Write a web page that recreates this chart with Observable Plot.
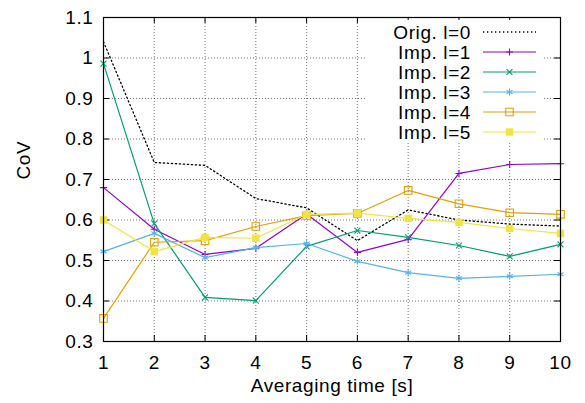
<!DOCTYPE html>
<html><head><meta charset="utf-8">
<script src="https://cdn.jsdelivr.net/npm/d3@7"></script>
<script src="https://cdn.jsdelivr.net/npm/@observablehq/plot@0.6"></script>
<style>body{margin:0;background:#fff} svg text{letter-spacing:0.6px}</style>
</head><body><div id="chart"></div>
<script>
const times = [1, 2, 3, 4, 5, 6, 7, 8, 9, 10];
const seriesNames = ["Orig. l=0", "Imp. l=1", "Imp. l=2", "Imp. l=3", "Imp. l=4", "Imp. l=5"];
const orig = [1.04, 0.742, 0.735, 0.653, 0.63, 0.549, 0.625, 0.60, 0.59, 0.585];
const imp1 = [0.68, 0.577, 0.515, 0.53, 0.615, 0.52, 0.552, 0.715, 0.737, 0.739];
const imp2 = [0.986, 0.591, 0.409, 0.401, 0.535, 0.574, 0.557, 0.537, 0.51, 0.54];
const imp3 = [0.522, 0.567, 0.507, 0.532, 0.542, 0.498, 0.47, 0.456, 0.461, 0.466];
const imp4 = [0.357, 0.545, 0.549, 0.584, 0.611, 0.616, 0.673, 0.64, 0.618, 0.614];
const imp5 = [0.60, 0.522, 0.557, 0.555, 0.614, 0.617, 0.604, 0.594, 0.579, 0.567];
const xTicks = [1, 2, 3, 4, 5, 6, 7, 8, 9, 10];
const yTicks = [0.3, 0.4, 0.5, 0.6, 0.7, 0.8, 0.9, 1, 1.1];
const xLabel = "Averaging time [s]";
const yLabel = "CoV";

const values = [orig, imp1, imp2, imp3, imp4, imp5];
const colors = ["#000000", "#9400d3", "#009e73", "#56b4e9", "#e69f00", "#f0e442"];
const symbols = [null, "plus", "times", "asterisk", "square2", "square"];
const symR = [0, 2.4, 2.8, 3.3, 4.8, 4.2];
const filled = [false, false, false, false, false, true];

const rows = [];
seriesNames.forEach((s, i) => times.forEach((t, j) => rows.push({s, t, v: values[i][j], i})));

const FONT = "'Liberation Sans', Arial, Helvetica, sans-serif";
const FS = 19;
const W = 585, H = 403, mL = 103, mR = 25, mT = 17, mB = 62;
const fw = W - mL - mR, fh = H - mT - mB, tl = 6;
const grid = {stroke: "#000", strokeOpacity: 0.55, strokeDasharray: "1,2", strokeWidth: 1};

const marks = [
  Plot.ruleX(xTicks.slice(1, -1), grid),
  Plot.ruleY(yTicks.slice(1, -1), grid),
  Plot.ruleX(xTicks, {stroke: "#000", insetTop: fh - tl}),
  Plot.ruleX(xTicks, {stroke: "#000", insetBottom: fh - tl}),
  Plot.ruleY(yTicks, {stroke: "#000", insetRight: fw - tl}),
  Plot.ruleY(yTicks, {stroke: "#000", insetLeft: fw - tl}),
  Plot.axisX({ticks: xTicks, tickSize: 0, tickPadding: 14, label: null, tickFormat: d => String(d)}),
  Plot.axisY({ticks: yTicks, tickSize: 0, tickPadding: 10, label: null, tickFormat: d => String(+d.toFixed(1))}),
  Plot.text([xLabel], {frameAnchor: "bottom", dy: 50, fontSize: FS}),
  Plot.text([yLabel], {frameAnchor: "left", dx: -80, rotate: -90, fontSize: FS})
];
seriesNames.forEach((s, i) => {
  const d = rows.filter(r => r.i === i);
  marks.push(Plot.line(d, {x: "t", y: "v", stroke: colors[i], strokeWidth: i === 0 ? 1.3 : 1.2,
    strokeDasharray: i === 0 ? "1.3,2.7" : null}));
  if (symbols[i]) marks.push(Plot.dot(d, {x: "t", y: "v", symbol: symbols[i], r: symR[i],
    stroke: filled[i] ? "none" : colors[i], fill: filled[i] ? colors[i] : "none", strokeWidth: 1.1}));
});
marks.push(Plot.frame({stroke: "#000", strokeWidth: 1.2}));

const svg = Plot.plot({
  width: W, height: H, marginLeft: mL, marginRight: mR, marginTop: mT, marginBottom: mB,
  style: {fontSize: FS + "px", fontFamily: FONT, color: "#000", background: "#fff"},
  x: {domain: [1, 10]}, y: {domain: [0.3, 1.1]},
  marks
});

// legend (inside plot, top-right)
const g = d3.select(svg).append("g").attr("font-size", FS).attr("font-family", FONT);
g.append("rect").attr("x", 366).attr("y", 20).attr("width", 178).attr("height", 122).attr("fill", "#fff");
const symMap = {plus: d3.symbolPlus, times: d3.symbolTimes, asterisk: d3.symbolAsterisk, square2: d3.symbolSquare2, square: d3.symbolSquare};
seriesNames.forEach((s, i) => {
  const y = 32 + 20 * i;
  g.append("text").attr("x", 471).attr("y", y).attr("text-anchor", "end").attr("dy", "0.35em").attr("fill", "#000").text(s);
  g.append("line").attr("x1", 483).attr("x2", 536).attr("y1", y).attr("y2", y)
    .attr("stroke", colors[i]).attr("stroke-width", i === 0 ? 1.3 : 1.2)
    .attr("stroke-dasharray", i === 0 ? "1.3,2.7" : null);
  if (symbols[i]) g.append("path").attr("transform", `translate(509.5,${y})`)
    .attr("d", d3.symbol(symMap[symbols[i]], Math.PI * symR[i] * symR[i])())
    .attr("fill", filled[i] ? colors[i] : "none").attr("stroke", filled[i] ? "none" : colors[i]).attr("stroke-width", 1.1);
});

document.getElementById("chart").appendChild(svg);
</script>
</body></html>
